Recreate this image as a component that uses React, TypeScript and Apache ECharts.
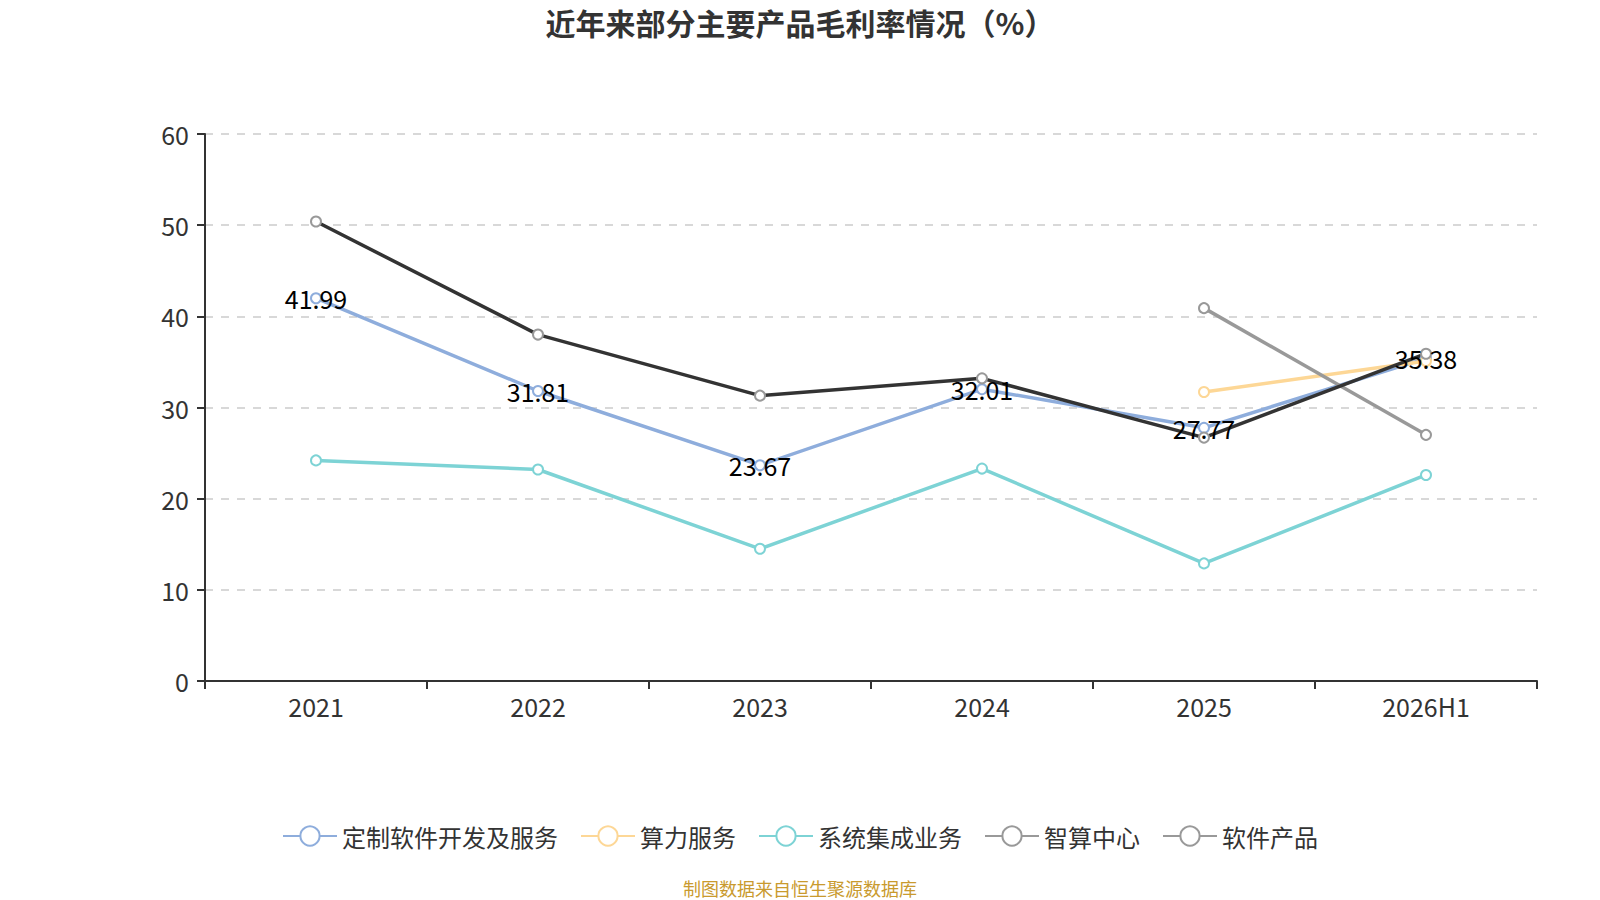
import { useEffect, useRef } from 'react';
import * as echarts from 'echarts';

const years = ['2021', '2022', '2023', '2024', '2025', '2026H1'];
const customSoftware = [41.99, 31.81, 23.67, 32.01, 27.77, 35.38];
const computing = [null, null, null, null, 31.7, 35.1];
const integration = [24.2, 23.2, 14.5, 23.3, 12.9, 22.6];
const aiCenter = [null, null, null, null, 40.9, 27.0];
const softwareProducts = [50.4, 38.0, 31.3, 33.2, 26.7, 35.9];

const FONT = '"Noto Sans CJK SC", "Noto Sans", sans-serif';

export default function App() {
  const chartRef = useRef<HTMLDivElement>(null);

  useEffect(() => {
    if (!chartRef.current) return;
    const chart = echarts.init(chartRef.current, null, { renderer: 'svg' });

    const lineSeries = (
      name: string,
      data: (number | null)[],
      color: string,
      lineColor: string,
      showLabel = false
    ) => ({
      name,
      type: 'line',
      data,
      symbol: 'emptyCircle',
      symbolSize: 10,
      itemStyle: { color, borderWidth: 2 },
      lineStyle: { color: lineColor, width: 3.5 },
      label: showLabel
        ? {
            show: true,
            position: 'inside',
            color: '#000',
            fontSize: 25,
            fontFamily: FONT,
          }
        : { show: false },
    });

    const option = {
      animation: false,
      textStyle: { fontFamily: FONT },
      title: [
        {
          text: '近年来部分主要产品毛利率情况（%）',
          left: 'center',
          top: 2,
          textStyle: { fontSize: 30, fontWeight: 'bold', color: '#333', fontFamily: FONT },
        },
        {
          text: '制图数据来自恒生聚源数据库',
          left: 'center',
          top: 874,
          textStyle: { fontSize: 18, fontWeight: 'normal', color: '#c99a2e', fontFamily: FONT },
        },
      ],
      grid: { left: 205, right: 63, top: 134, bottom: 219 },
      legend: {
        top: 819,
        left: 'center',
        itemWidth: 54,
        itemHeight: 24,
        itemGap: 22,
        textStyle: { fontSize: 24, color: '#333', fontFamily: FONT },
        data: [
          { name: '定制软件开发及服务' },
          { name: '算力服务' },
          { name: '系统集成业务' },
          { name: '智算中心' },
          {
            name: '软件产品',
            itemStyle: { color: '#999' },
            lineStyle: { color: '#999' },
          },
        ],
      },
      xAxis: {
        type: 'category',
        data: years,
        boundaryGap: true,
        axisLine: { lineStyle: { color: '#333', width: 2 } },
        axisTick: { show: true, length: 8, lineStyle: { color: '#333', width: 2 } },
        axisLabel: { fontSize: 25, color: '#333', margin: 12, fontFamily: FONT },
      },
      yAxis: {
        type: 'value',
        min: 0,
        max: 60,
        interval: 10,
        axisLine: { show: true, lineStyle: { color: '#333', width: 2 } },
        axisTick: { show: true, length: 8, lineStyle: { color: '#333', width: 2 } },
        axisLabel: { fontSize: 25, color: '#333', margin: 16, fontFamily: FONT },
        splitLine: { lineStyle: { color: '#ccc', type: [8, 8], width: 1.5 } },
      },
      series: [
        lineSeries('定制软件开发及服务', customSoftware, '#8eaddc', '#8eaddc', true),
        lineSeries('算力服务', computing, '#fdd796', '#fdd796'),
        lineSeries('系统集成业务', integration, '#7dd3d5', '#7dd3d5'),
        lineSeries('智算中心', aiCenter, '#999', '#999'),
        lineSeries('软件产品', softwareProducts, '#999', '#333'),
      ],
    };

    chart.setOption(option as any);
    const handleResize = () => chart.resize();
    window.addEventListener('resize', handleResize);
    return () => {
      window.removeEventListener('resize', handleResize);
      chart.dispose();
    };
  }, []);

  return (
    <div
      ref={chartRef}
      style={{ position: 'fixed', left: 0, top: 0, width: 1600, height: 900, background: '#fff' }}
    />
  );
}
